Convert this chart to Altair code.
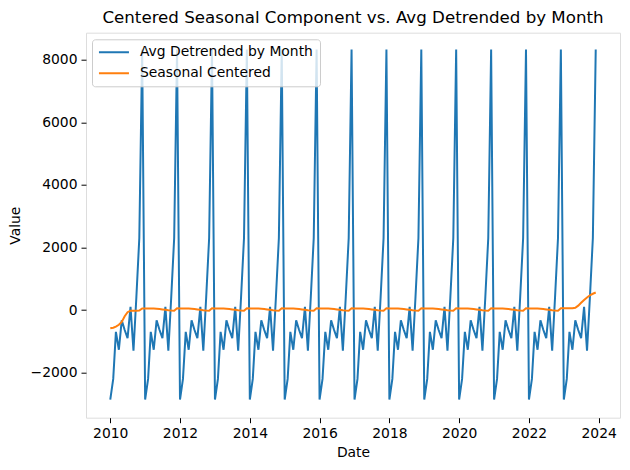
import altair as alt
import pandas as pd

# ---- data ----
years = list(range(2010, 2024))
months = list(range(1, 13))

# average detrended value for each calendar month (Jan..Dec), repeated each year
avg_detrended_by_month = [-2860, -2200, -700, -1270, -330, -640, -900, 100, -1300, 400, 2300, 8320]

# centered seasonal component, one row per year (Jan..Dec)
seasonal_centered = [
    [-585, -565, -530, -470, -380, -200, -70, -20, -20, -20, -15, 50],   # 2010
    [52, 50, 47, 45, 40, 35, 20, 5, -10, -18, -22, 55],                # 2011
    [52, 50, 47, 45, 40, 35, 20, 5, -10, -18, -22, 55],                # 2012
    [52, 50, 47, 45, 40, 35, 20, 5, -10, -18, -22, 55],                # 2013
    [52, 50, 47, 45, 40, 35, 20, 5, -10, -18, -22, 55],                # 2014
    [52, 50, 47, 45, 40, 35, 20, 5, -10, -18, -22, 55],                # 2015
    [52, 50, 47, 45, 40, 35, 20, 5, -10, -18, -22, 55],                # 2016
    [52, 50, 47, 45, 40, 35, 20, 5, -10, -18, -22, 55],                # 2017
    [52, 50, 47, 45, 40, 35, 20, 5, -10, -18, -22, 55],                # 2018
    [52, 50, 47, 45, 40, 35, 20, 5, -10, -18, -22, 55],                # 2019
    [52, 50, 47, 45, 40, 35, 20, 5, -10, -18, -22, 55],                # 2020
    [52, 50, 47, 45, 40, 35, 20, 5, -10, -18, -22, 55],                # 2021
    [52, 50, 47, 45, 40, 35, 20, 5, -10, -18, -22, 55],                # 2022
    [55, 55, 55, 58, 70, 140, 230, 320, 400, 470, 520, 560],           # 2023
]

series_names = ["Avg Detrended by Month", "Seasonal Centered"]
series_colors = ["#1f77b4", "#ff7f0e"]
x_tick_years = [2010, 2012, 2014, 2016, 2018, 2020, 2022, 2024]
y_tick_values = [-2000, 0, 2000, 4000, 6000, 8000]

# ---- build the table ----
rows = []
for yi, y in enumerate(years):
    for mi, m in enumerate(months):
        d = pd.Timestamp(year=y, month=m, day=1)
        rows.append({"Date": d, "Value": avg_detrended_by_month[mi], "Series": series_names[0], "order": 0})
for yi, y in enumerate(years):
    for mi, m in enumerate(months):
        d = pd.Timestamp(year=y, month=m, day=1)
        rows.append({"Date": d, "Value": seasonal_centered[yi][mi], "Series": series_names[1], "order": 1})
df = pd.DataFrame(rows)

FONT = "DejaVu Sans"
FS = 13.9

axis_common = dict(
    grid=False,
    domain=False,
    tickColor="black",
    tickSize=5,
    tickWidth=1,
    labelPadding=4,
    labelFontSize=FS,
    labelColor="black",
    labelFont=FONT,
    titleFont=FONT,
    titleFontSize=FS,
    titleFontWeight="normal",
    titleColor="black",
)

chart = (
    alt.Chart(df)
    .mark_line(strokeWidth=2, clip=True)
    .encode(
        x=alt.X(
            "Date:T",
            title="Date",
            scale=alt.Scale(
                domain=[
                    alt.DateTime(year=2009, month=4, date=22),
                    alt.DateTime(year=2024, month=8, date=11),
                ],
                nice=False,
            ),
            axis=alt.Axis(
                values=[alt.DateTime(year=yy, month=1, date=1) for yy in x_tick_years],
                format="%Y",
                titlePadding=5,
                **axis_common,
            ),
        ),
        y=alt.Y(
            "Value:Q",
            title="Value",
            scale=alt.Scale(domain=[-3440, 8860], nice=False, zero=False),
            axis=alt.Axis(
                values=y_tick_values,
                format="d",
                titlePadding=8,
                **axis_common,
            ),
        ),
        color=alt.Color(
            "Series:N",
            scale=alt.Scale(domain=series_names, range=series_colors),
            legend=alt.Legend(
                title=None,
                orient="none",
                legendX=6,
                legendY=6.6,
                symbolType="M-1.2,0H4.8",
                symbolSize=100,
                symbolStrokeWidth=2,
                labelOffset=28,
                labelFontSize=FS,
                labelFont=FONT,
                labelColor="black",
                rowPadding=6,
                padding=6,
                fillColor="rgba(255,255,255,0.8)",
                strokeColor="#cccccc",
                cornerRadius=3,
                labelLimit=400,
            ),
        ),
        order=alt.Order("order:Q"),
    )
    .properties(
        width=534,
        height=385,
        title=alt.TitleParams(
            "Centered Seasonal Component vs. Avg Detrended by Month",
            font=FONT,
            fontSize=16.67,
            fontWeight="normal",
            color="black",
            anchor="middle",
            frame="group",
            baseline="alphabetic",
            offset=8,
            dy=15,
        ),
        autosize=alt.AutoSizeParams(type="none"),
        padding={"left": 78, "top": 24.7, "right": 1, "bottom": 44},
    )
    .configure_view(stroke="black", strokeWidth=1)
    .configure(background="white")
)

chart.save("out.html", embed_options={"renderer": "svg", "actions": False})
